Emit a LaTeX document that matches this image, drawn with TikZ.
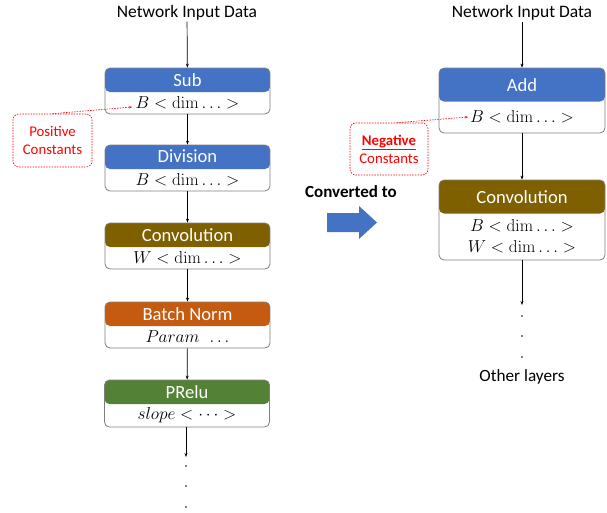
\documentclass[tikz,border=0pt]{standalone}
\usepackage[no-math]{fontspec}
\setmainfont{Carlito}
\usetikzlibrary{arrows.meta}
\definecolor{hblue}{HTML}{4472C4}
\definecolor{hbrown}{HTML}{7F6000}
\definecolor{horange}{HTML}{C55A11}
\definecolor{hgreen}{HTML}{538135}
\definecolor{bgray}{HTML}{7F7F7F}
\definecolor{cred}{HTML}{FF0000}
\tikzset{
  layerbox/.style 2 args={draw=bgray, line width=0.8pt, rounded corners=5pt, fill=white,
    minimum width=165pt, minimum height=#1, inner sep=0pt,
    path picture={\fill[#2] (path picture bounding box.north west) rectangle ([yshift=-24pt]path picture bounding box.north east);}},
  layerboxR/.style 2 args={draw=bgray, line width=0.8pt, rounded corners=5pt, fill=white,
    minimum width=166pt, minimum height=#1, inner sep=0pt,
    path picture={\fill[#2] (path picture bounding box.north west) rectangle ([yshift=-33.5pt]path picture bounding box.north east);}},
  hdr/.style={text=white, font=\fontsize{18.6}{20}\selectfont, inner sep=0pt},
  bodytxt/.style={text=black, font=\fontsize{16.2}{18}\selectfont, inner sep=0pt},
  lbl/.style={text=black, font=\fontsize{17.5}{19}\selectfont, inner sep=1pt},
  arr/.style={-{Stealth[length=4pt,width=3pt]}, line width=0.7pt, black},
  constbox/.style={draw=cred, dash pattern=on 1.5pt off 1.2pt, line width=0.6pt, rounded corners=6pt,
    align=center, text=cred, font=\fontsize{14.8}{18}\selectfont, inner sep=0pt},
  constline/.style={draw=cred, dash pattern=on 1.5pt off 1.2pt, line width=0.6pt, -{Stealth[length=3pt,width=2.5pt]}},
  dotn/.style={circle, fill=black, inner sep=0pt, minimum size=1.6pt},
}
\begin{document}
\begin{tikzpicture}[x=1pt,y=-1pt]
\useasboundingbox (0,0) rectangle (607,512);

% ---------- left column ----------
\node[lbl] (inL) at (187,13) {Network Input Data};
\node[layerbox={46pt}{hblue}] (sub) at (187.5,91) {};
\node[hdr] (subT) at (187.5,80) {Sub};
\node[bodytxt] (subB) at (187.5,103) {$B<\dim\ldots>$};

\node[layerbox={46pt}{hblue}] (div) at (187.5,168) {};
\node[hdr] (divT) at (187.5,156.5) {Division};
\node[bodytxt] (divB) at (187.5,180) {$B<\dim\ldots>$};

\node[layerbox={46pt}{hbrown}] (convL) at (187.5,246) {};
\node[hdr] (convLT) at (187.5,235) {Convolution};
\node[bodytxt] (convLB) at (187.5,258) {$W<\dim\ldots>$};

\node[layerbox={46pt}{horange}] (bn) at (187.5,325) {};
\node[hdr] (bnT) at (187.5,314) {Batch Norm};
\node[bodytxt] (bnB) at (187.5,337) {$Param\ \ \ldots$};

\node[layerbox={47pt}{hgreen}] (prelu) at (187,403.5) {};
\node[hdr] (preluT) at (187,392) {PRelu};
\node[bodytxt] (preluB) at (187,415.5) {$slope<\cdots>$};

\coordinate (endL) at (186,457);
\node[dotn] (dL1) at (186,466) {};
\node[dotn] (dL2) at (186,486) {};
\node[dotn] (dL3) at (186,507) {};

\draw[arr] (inL) -- (sub);
\draw[arr] (sub) -- (div);
\draw[arr] (div) -- (convL);
\draw[arr] (convL) -- (bn);
\draw[arr] (bn) -- (prelu);
\draw[arr] (prelu.south -| endL) -- (endL);

\node[constbox, minimum width=79pt, minimum height=53pt] (pos) at (52.5,140.5) {Positive\\Constants};
\coordinate (posEnd) at (132,107);
\draw[constline] (pos.north) -- (posEnd);

% ---------- arrow ----------
\node[font=\bfseries\fontsize{17}{20}\selectfont, inner sep=0pt] (conv) at (351,192) {Converted to};
\fill[hblue] (327,213) -- (359,213) -- (359,206) -- (377,222.5) -- (359,239) -- (359,232) -- (327,232) -- cycle;

% ---------- right column ----------
\node[lbl] (inR) at (522,13) {Network Input Data};
\node[layerboxR={65pt}{hblue}] (add) at (522,100.5) {};
\node[hdr] (addT) at (522,85) {Add};
\node[bodytxt] (addB) at (522,117) {$B<\dim\ldots>$};

\node[layerboxR={80pt}{hbrown}] (convR) at (522,220) {};
\node[hdr] (convRT) at (522,197.5) {Convolution};
\node[bodytxt] (convRB1) at (522,226) {$B<\dim\ldots>$};
\node[bodytxt] (convRB2) at (522,247) {$W<\dim\ldots>$};

\coordinate (endR) at (522,305);
\node[dotn] (dR1) at (522,316) {};
\node[dotn] (dR2) at (522,336) {};
\node[dotn] (dR3) at (522,357) {};
\node[lbl, font=\fontsize{17.2}{19}\selectfont] (other) at (522,377) {Other layers};

\draw[arr] (inR) -- (add);
\draw[arr] (add) -- (convR);
\draw[arr] (convR) -- (endR);

\node[constbox, minimum width=78pt, minimum height=52pt] (neg) at (389,149) {\textbf{\underline{Negative}}\\Constants};
\coordinate (negEnd) at (468,117);
\draw[constline] ([xshift=8pt]neg.north) -- (negEnd);
\end{tikzpicture}
\end{document}
